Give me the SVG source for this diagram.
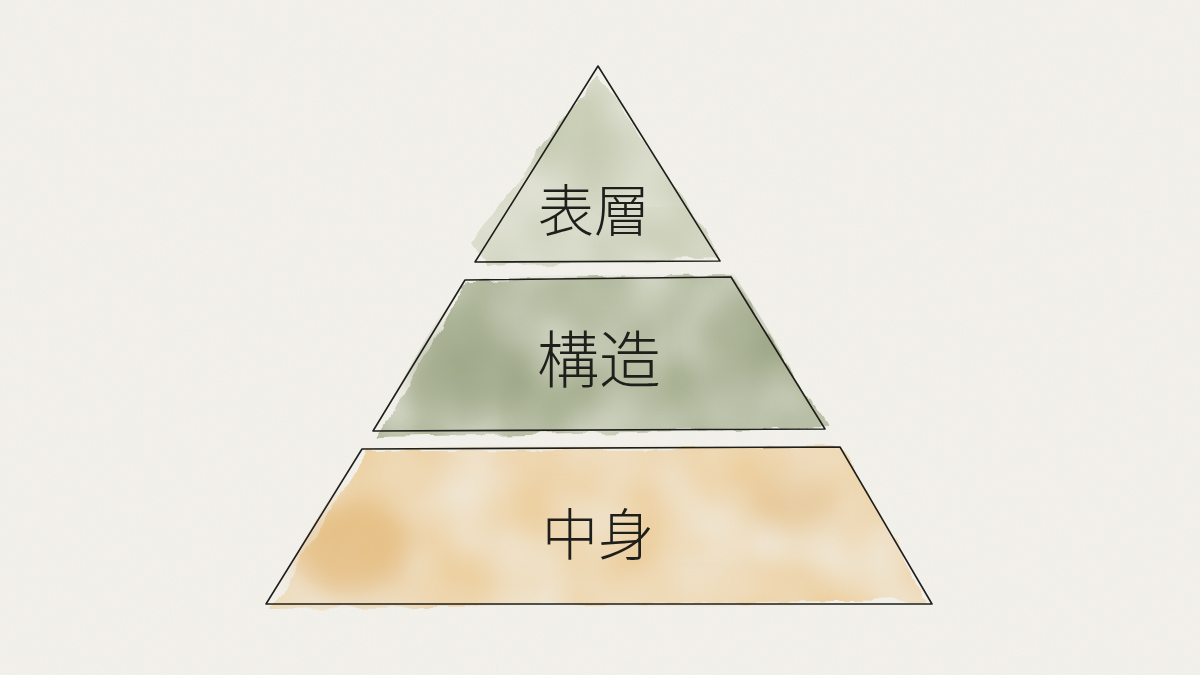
<svg xmlns="http://www.w3.org/2000/svg" width="1200" height="675" viewBox="0 0 1200 675">
<defs>
<filter id="wash" x="-10%" y="-10%" width="120%" height="120%">
<feTurbulence type="fractalNoise" baseFrequency="0.03" numOctaves="3" seed="4" result="n"/>
<feDisplacementMap in="SourceGraphic" in2="n" scale="12" xChannelSelector="R" yChannelSelector="G" result="d"/>
<feTurbulence type="fractalNoise" baseFrequency="0.012" numOctaves="2" seed="9" result="n2"/>
<feColorMatrix in="n2" type="matrix" values="0 0 0 0 0  0 0 0 0 0  0 0 0 0 0  0 0 0 -1.2 1.25" result="m"/>
<feComposite in="d" in2="m" operator="in"/>
</filter>
<filter id="soft" x="-50%" y="-50%" width="200%" height="200%">
<feGaussianBlur stdDeviation="14"/>
</filter>
<filter id="paper" x="0" y="0" width="100%" height="100%">
<feTurbulence type="fractalNoise" baseFrequency="0.6" numOctaves="2" seed="2" result="t"/>
<feColorMatrix in="t" type="matrix" values="0 0 0 0 0.55  0 0 0 0 0.53  0 0 0 0 0.48  0 0 0 0.1 0"/>
</filter>
<clipPath id="cTop"><path d="M598,60 L728,262 L470,266 Z"/></clipPath>
<clipPath id="cMid"><path d="M462,276 L734,274 L830,430 L370,436 Z"/></clipPath>
<clipPath id="cBot"><path d="M360,446 L844,444 L934,606 L264,608 Z"/></clipPath>
<style>
.edge{fill:none;stroke:#1e1e1a;stroke-width:1.6;stroke-linejoin:round}
.lbl{font-family:"Noto Sans CJK JP","Noto Sans CJK SC",sans-serif;font-weight:300;fill:#1e1e1a;text-anchor:middle}
</style>
</defs>
<rect width="1200" height="675" fill="#f4f2ec"/>
<rect width="1200" height="675" filter="url(#paper)"/>
<g id="top">
<path d="M598,72 L722,258 L484,266 L470,245 Z" fill="#c9ceb6" filter="url(#wash)"/>
<g clip-path="url(#cTop)">
<ellipse cx="600" cy="170" rx="30" ry="50" fill="#b9c0a2" opacity="0.5" filter="url(#soft)"/>
<ellipse cx="650" cy="235" rx="30" ry="14" fill="#b4bb9c" opacity="0.6" filter="url(#soft)"/>
</g>
<path class="edge" d="M598,66 L720,261 L475,262 Z"/>
<text class="lbl" x="594" y="231" font-size="56">表層</text>
</g>
<g id="middle">
<path d="M468,280 L732,276 L826,428 L378,437 Z" fill="#a2ac8b" filter="url(#wash)"/>
<g clip-path="url(#cMid)">
<ellipse cx="470" cy="370" rx="60" ry="40" fill="#8a9672" opacity="0.55" filter="url(#soft)"/>
<ellipse cx="740" cy="340" rx="35" ry="60" fill="#8e9a76" opacity="0.45" filter="url(#soft)"/>
<ellipse cx="600" cy="300" rx="90" ry="18" fill="#b3bb9f" opacity="0.5" filter="url(#soft)"/>
<ellipse cx="640" cy="405" rx="120" ry="14" fill="#b6bda3" opacity="0.45" filter="url(#soft)"/>
</g>
<path class="edge" d="M465,280 L731,277 L825,429 L373,431 Z"/>
<text class="lbl" x="599" y="383" font-size="62">構造</text>
</g>
<g id="bottom">
<path d="M365,452 L842,446 L928,600 L272,608 Z" fill="#ecce9c" filter="url(#wash)"/>
<g clip-path="url(#cBot)">
<ellipse cx="350" cy="550" rx="60" ry="45" fill="#e0b271" opacity="0.5" filter="url(#soft)"/>
<ellipse cx="790" cy="505" rx="45" ry="25" fill="#e0b271" opacity="0.45" filter="url(#soft)"/>
<ellipse cx="700" cy="590" rx="120" ry="14" fill="#f0dcbb" opacity="0.6" filter="url(#soft)"/>
<ellipse cx="560" cy="465" rx="120" ry="12" fill="#f0dcbb" opacity="0.5" filter="url(#soft)"/>
</g>
<path class="edge" d="M362,449 L840,447 L932,604 L266,604 Z"/>
<text class="lbl" x="598" y="555" font-size="56">中身</text>
</g>
</svg>
